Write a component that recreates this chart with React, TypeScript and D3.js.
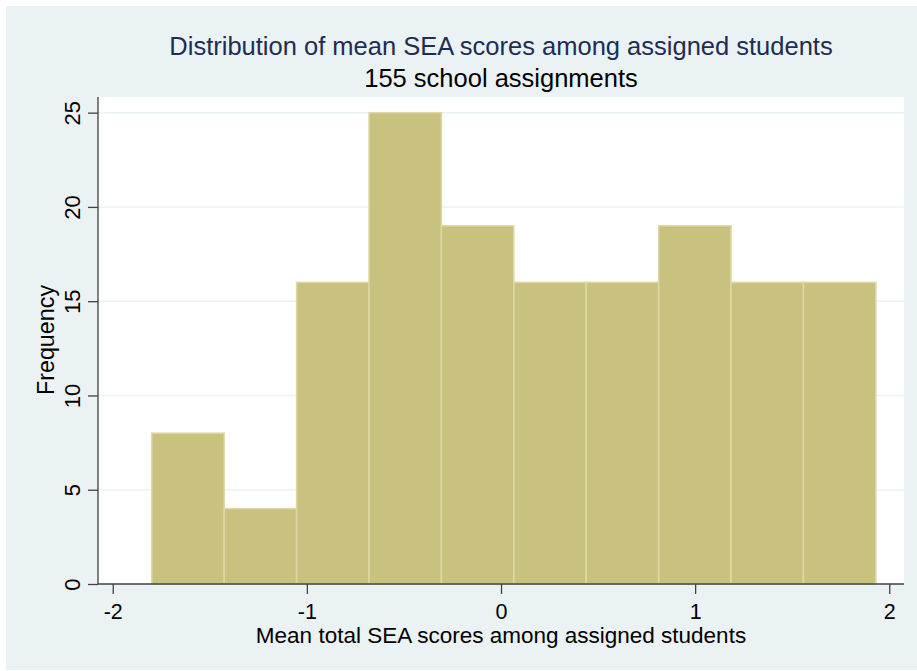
import React, { useRef, useEffect } from 'react';
import * as d3 from 'd3';

// histogram bins
const binEdges = [-1.799, -1.426, -1.053, -0.68, -0.307, 0.066, 0.439, 0.812, 1.185, 1.558, 1.931];
const counts = [8, 4, 16, 25, 19, 16, 16, 19, 16, 16];
const xTicks = [-2, -1, 0, 1, 2];
const yTicks = [0, 5, 10, 15, 20, 25];

const title = 'Distribution of mean SEA scores among assigned students';
const subtitle = '155 school assignments';
const xTitle = 'Mean total SEA scores among assigned students';
const yTitle = 'Frequency';

const App: React.FC = () => {
  const ref = useRef<SVGSVGElement>(null);

  useEffect(() => {
    const svg = d3.select(ref.current);
    svg.selectAll('*').remove();

    const font = 'Arial, "Liberation Sans", sans-serif';
    const fmt = (d: d3.NumberValue) => String(d); // plain hyphen minus, like the original

    // outer background
    svg.append('rect').attr('width', 917).attr('height', 671).attr('fill', '#ffffff');
    svg.append('rect').attr('x', 6).attr('y', 6).attr('width', 911).attr('height', 664).attr('fill', '#eaf2f3');

    // scales
    const xScale = d3.scaleLinear().domain([-2.076, 2.076]).range([98, 904]);
    const yScale = d3.scaleLinear().domain([0, 25.83]).range([584, 97]);

    // plot region
    svg.append('rect')
      .attr('x', 98).attr('y', 97)
      .attr('width', 904 - 98).attr('height', 584 - 97)
      .attr('fill', '#ffffff');

    // grid
    svg.append('g')
      .selectAll('line')
      .data(yTicks.filter(d => d > 0))
      .join('line')
      .attr('x1', 98).attr('x2', 904)
      .attr('y1', d => yScale(d)).attr('y2', d => yScale(d))
      .attr('stroke', '#eaf2f3')
      .attr('stroke-width', 1.5);

    // bars
    const bins = counts.map((c, i) => ({ x0: binEdges[i], x1: binEdges[i + 1], n: c }));
    svg.append('g')
      .selectAll('rect')
      .data(bins)
      .join('rect')
      .attr('x', d => xScale(d.x0))
      .attr('y', d => yScale(d.n))
      .attr('width', d => xScale(d.x1) - xScale(d.x0))
      .attr('height', d => yScale(0) - yScale(d.n))
      .attr('fill', '#c9c27e')
      .attr('stroke', '#ddd8a6')
      .attr('stroke-width', 1.5);

    // axes
    const xAxis = svg.append('g')
      .attr('transform', 'translate(0,584)')
      .call(d3.axisBottom(xScale).tickValues(xTicks).tickSize(10).tickFormat(fmt));
    xAxis.select('.domain').attr('d', 'M98,0H904').attr('stroke', '#404040').attr('stroke-width', 1.3);
    xAxis.selectAll('.tick line').attr('stroke', '#404040').attr('stroke-width', 1.3);
    xAxis.selectAll('.tick text')
      .attr('font-family', font).attr('font-size', 21.5).attr('fill', '#000')
      .attr('dy', null).attr('y', 34.5);

    const yAxis = svg.append('g')
      .attr('transform', 'translate(98,0)')
      .call(d3.axisLeft(yScale).tickValues(yTicks).tickSize(10).tickFormat(fmt));
    yAxis.select('.domain').attr('d', 'M0,97V584').attr('stroke', '#404040').attr('stroke-width', 1.3);
    yAxis.selectAll('.tick line').attr('stroke', '#404040').attr('stroke-width', 1.3);
    yAxis.selectAll('.tick text')
      .attr('font-family', font).attr('font-size', 22).attr('fill', '#000')
      .attr('x', null).attr('dy', null)
      .attr('text-anchor', 'middle')
      .attr('transform', 'translate(-18,0) rotate(-90)');

    // titles
    svg.append('text')
      .attr('x', 501).attr('y', 55)
      .attr('text-anchor', 'middle')
      .attr('font-family', font).attr('font-size', 25.5)
      .attr('fill', '#1e2d53')
      .text(title);
    svg.append('text')
      .attr('x', 501).attr('y', 87)
      .attr('text-anchor', 'middle')
      .attr('font-family', font).attr('font-size', 25.5)
      .attr('fill', '#000')
      .text(subtitle);
    svg.append('text')
      .attr('x', 501).attr('y', 643)
      .attr('text-anchor', 'middle')
      .attr('font-family', font).attr('font-size', 22.5)
      .attr('fill', '#000')
      .text(xTitle);
    svg.append('text')
      .attr('transform', 'translate(53.5,340) rotate(-90)')
      .attr('text-anchor', 'middle')
      .attr('font-family', font).attr('font-size', 23.3)
      .attr('fill', '#000')
      .text(yTitle);
  }, []);

  return (
    <svg ref={ref} width="917" height="671" style={{ position: 'absolute', left: 0, top: 0 }}></svg>
  );
};

export default App;
